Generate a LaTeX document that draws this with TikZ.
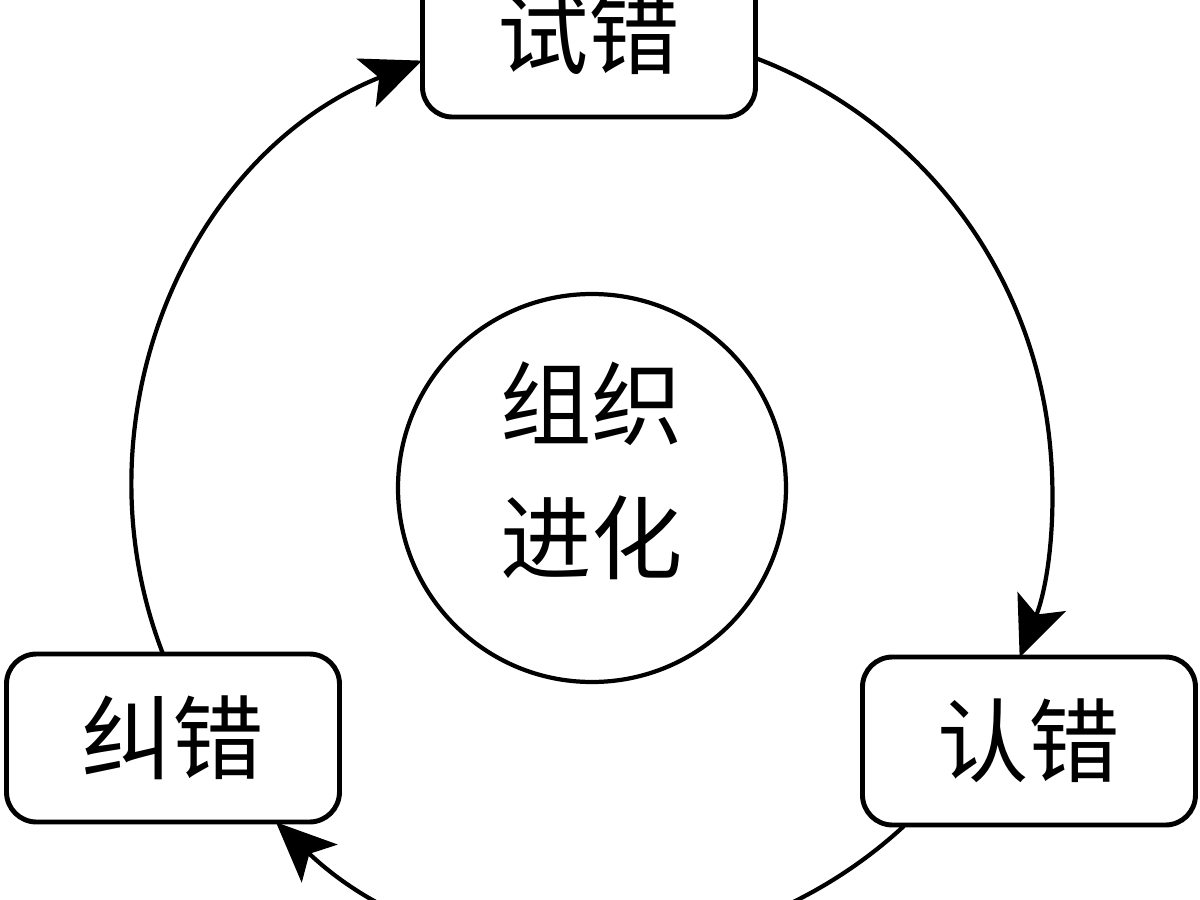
\documentclass[tikz,border=0pt]{standalone}
\usepackage{fontspec}
\newfontfamily\cjk{Noto Sans CJK SC}
\usetikzlibrary{arrows.meta, positioning}

\begin{document}
\begin{tikzpicture}[
    stage/.style={draw, rectangle, rounded corners=3mm, line width=1.4pt,
                  minimum width=33.3mm, minimum height=16.8mm,
                  font=\cjk\fontsize{26}{38}\selectfont, fill=white},
    core/.style={draw, circle, line width=1.2pt, minimum size=38.8mm,
                 inner sep=0pt, align=center,
                 font=\cjk\fontsize{26}{38}\selectfont},
    cyc/.style={-{Stealth[length=6mm, width=5.2mm, inset=1.4mm]}, line width=1.2pt}
  ]
    \useasboundingbox (-5.92,-4.12) rectangle (6.08,4.88);
    \clip (-5.92,-4.12) rectangle (6.08,4.88);

    \node[core] (evo) at (0,0) {组织\\进化\rule[-4.2mm]{0pt}{4.2mm}};

    \node[stage] (try)  at (-0.03,4.55) {试错};
    \node[stage] (own)  at (4.37,-2.53) {认错};
    \node[stage] (fix)  at (-4.19,-2.50) {纠错};

    % points where the ring meets the boxes
    \coordinate (tryout) at (69.0:4.6);
    \coordinate (tryin)  at (111.7:4.6);
    \coordinate (ownin)  at (-21.6:4.6);
    \coordinate (ownout) at (-47.3:4.6);
    \coordinate (fixin)  at (-133.4:4.6);
    \coordinate (fixout) at (201.3:4.6);

    \draw[cyc] (tryout) arc[start angle=69.0, end angle=-21.6, radius=4.6];
    \draw[cyc] (ownout) arc[start angle=-47.3, end angle=-133.4, radius=4.6];
    \draw[cyc] (fixout) arc[start angle=201.3, end angle=111.7, radius=4.6];
  \end{tikzpicture}
\end{document}
